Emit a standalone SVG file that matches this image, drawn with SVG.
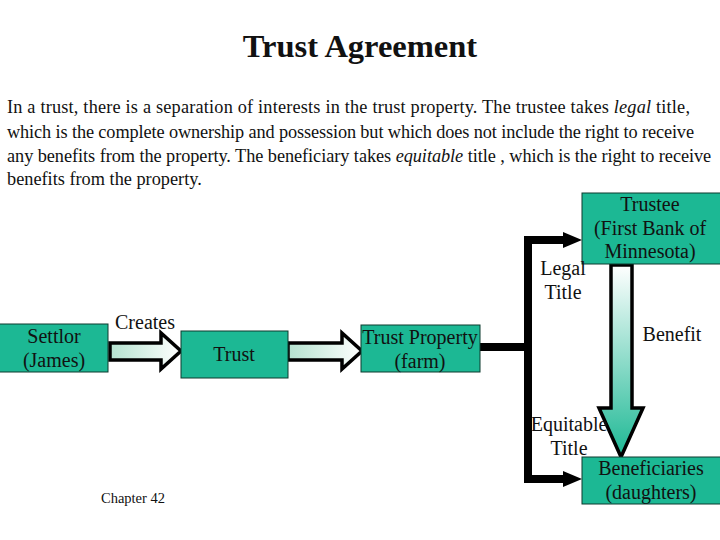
<svg xmlns="http://www.w3.org/2000/svg" width="720" height="540" viewBox="0 0 720 540">
<defs>
<style>
.t{font-family:"Liberation Serif","Times New Roman",serif;fill:#111;}
.box{fill:#1cb894;stroke:#0d3b2e;stroke-width:1;}
.bt{font-size:20px;text-anchor:middle;}
.lbl{font-size:20px;text-anchor:middle;}
.line{fill:none;stroke:#000;stroke-width:8;}
</style>
<linearGradient id="hg" x1="0" y1="0" x2="1" y2="0">
<stop offset="0" stop-color="#b4e2cf"/>
<stop offset="1" stop-color="#ffffff"/>
</linearGradient>
<linearGradient id="vg" x1="0" y1="0" x2="0" y2="1">
<stop offset="0" stop-color="#ffffff"/>
<stop offset="1" stop-color="#1cb894"/>
</linearGradient>
</defs>
<rect width="720" height="540" fill="#fff"/>
<text class="t" x="360" y="57" font-size="32.5" font-weight="bold" text-anchor="middle">Trust Agreement</text>
<g class="t" font-size="18.3">
<text x="7" y="113" textLength="683" lengthAdjust="spacing">In a trust, there is a separation of interests in the trust property.  The trustee takes <tspan font-style="italic">legal</tspan> title,</text>
<text x="7" y="138" textLength="687" lengthAdjust="spacing">which is the complete ownership and possession but which does not include the right to receive</text>
<text x="7" y="162" letter-spacing="-0.06">any benefits from the property.  The beneficiary takes <tspan font-style="italic">equitable</tspan> title , which is the right to receive</text>
<text x="7" y="185">benefits from the property.</text>
</g>
<g id="connectors">
<path d="M110,343 H161 V333 L181,351 L161,369 V360 H110 Z" fill="url(#hg)" stroke="#000" stroke-width="3.5"/>
<path d="M288,343 H342 V333 L362,351 L342,369 V360 H288 Z" fill="url(#hg)" stroke="#000" stroke-width="3.5"/>
<path class="line" d="M480,347 H528"/>
<path class="line" d="M564,240 H528 V479 H564"/>
<polygon points="563,232 582,240 563,248" fill="#000"/>
<polygon points="563,471 582,479 563,487" fill="#000"/>
<path d="M611,265 H632 V408 H643 L621,457 L599,408 H611 Z" fill="url(#vg)" stroke="#000" stroke-width="3.5"/>
</g>
<g id="settlor">
<rect class="box" x="-1" y="324" width="109" height="48"/>
<text class="t bt" x="54" y="343">Settlor</text>
<text class="t bt" x="54" y="367">(James)</text>
</g>
<g id="trust">
<rect class="box" x="181" y="331" width="107" height="47"/>
<text class="t bt" x="234" y="361">Trust</text>
</g>
<g id="trust-property">
<rect class="box" x="361" y="325" width="119" height="47"/>
<text class="t bt" x="420" y="344">Trust Property</text>
<text class="t bt" x="420" y="368">(farm)</text>
</g>
<g id="trustee">
<rect class="box" x="582" y="193" width="140" height="71"/>
<text class="t bt" x="650" y="211">Trustee</text>
<text class="t bt" x="650" y="235">(First Bank of</text>
<text class="t bt" x="650" y="258">Minnesota)</text>
</g>
<g id="beneficiaries">
<rect class="box" x="582" y="457" width="140" height="47"/>
<text class="t bt" x="651" y="475">Beneficiaries</text>
<text class="t bt" x="651" y="499">(daughters)</text>
</g>
<g id="labels">
<text class="t lbl" x="145" y="329">Creates</text>
<text class="t lbl" x="563" y="275">Legal</text>
<text class="t lbl" x="563" y="299">Title</text>
<text class="t lbl" x="672" y="341">Benefit</text>
<text class="t lbl" x="569" y="431">Equitable</text>
<text class="t lbl" x="569" y="455">Title</text>
<text class="t" x="133" y="503" font-size="14.5" text-anchor="middle">Chapter 42</text>
</g>
</svg>
